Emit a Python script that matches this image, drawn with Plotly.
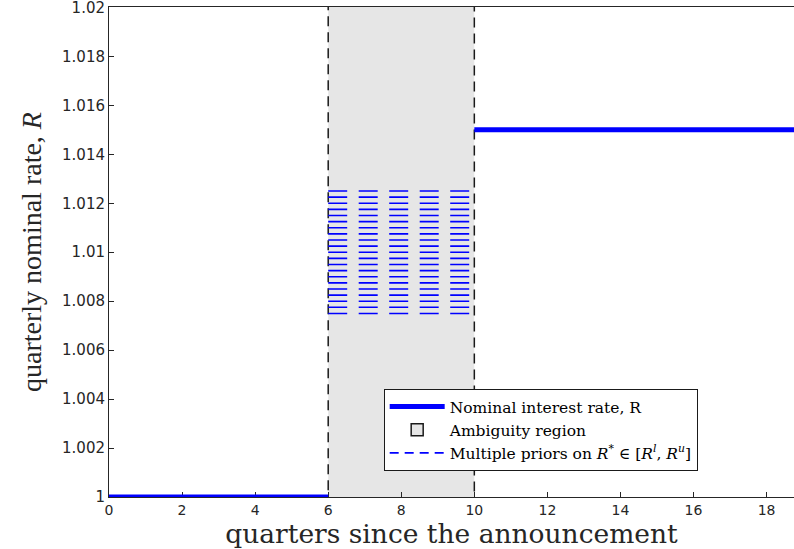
import numpy as np
import plotly.graph_objects as go

# Nominal interest rate path (quarters, gross quarterly rate)
rate_pre_x = [0, 6]
rate_pre_y = [1.0, 1.0]
rate_post_x = [10, 18.75]
rate_post_y = [1.015, 1.015]

# Ambiguity window
amb_start = 6
amb_end = 10

# Multiple priors: candidate levels for R*
prior_low = 1.0075
prior_high = 1.0125
prior_step = 0.00025
prior_levels = list(np.round(np.arange(prior_low, prior_high + prior_step / 2, prior_step), 6))

x_ticks = [0, 2, 4, 6, 8, 10, 12, 14, 16, 18]
y_ticks = [1.0, 1.002, 1.004, 1.006, 1.008, 1.01, 1.012, 1.014, 1.016, 1.018, 1.02]
y_ticktext = ["1", "1.002", "1.004", "1.006", "1.008", "1.01", "1.012", "1.014", "1.016", "1.018", "1.02"]

y_min, y_max = 1.0, 1.02
x_min, x_max = 0, 18.75

serif = "DejaVu Serif, serif"
serif_narrow = "Liberation Serif, serif"
sans = "DejaVu Sans, sans-serif"
axis_col = "#262626"

fig = go.Figure()

# Shaded ambiguity region with dashed outline (also carries its legend entry).
# It runs past the y-range so only its vertical edges remain after clipping.
pad = 0.001
fig.add_shape(type="rect", xref="x", yref="y",
              x0=amb_start, x1=amb_end, y0=y_min - pad, y1=y_max + pad,
              fillcolor="#e6e6e6",
              line=dict(color="#1a1a1a", width=1.5, dash="10px,6px"),
              layer="below",
              showlegend=True, name="Ambiguity region", legendrank=2)

# Multiple priors: dashed horizontal lines across the ambiguity window
px, py = [], []
for lv in prior_levels:
    px += [amb_start, amb_end, None]
    py += [lv, lv, None]
fig.add_trace(go.Scatter(
    x=px, y=py,
    mode="lines",
    line=dict(color="#0000ff", width=1.6, dash="19px,11.5px"),
    showlegend=False, hoverinfo="skip",
))
fig.add_trace(go.Scatter(
    x=[None], y=[None],
    mode="lines",
    line=dict(color="#0000ff", width=1.6, dash="9px,6px"),
    name="Multiple priors on <i>R</i><sup>*</sup> \u2208 [<i>R</i><sup><i>l</i></sup>, <i>R</i><sup><i>u</i></sup>]",
    legendrank=3,
))

# Nominal rate (two flat segments)
fig.add_trace(go.Scatter(
    x=rate_pre_x + [None] + rate_post_x,
    y=rate_pre_y + [None] + rate_post_y,
    mode="lines",
    line=dict(color="#0000ff", width=5),
    name="Nominal interest rate, R",
    connectgaps=False, legendrank=1,
))

fig.update_layout(
    width=794, height=549,
    margin=dict(l=109, r=0, t=7, b=52),
    paper_bgcolor="white",
    plot_bgcolor="white",
    showlegend=True,
    legend=dict(
        x=0.401, y=0.053, xanchor="left", yanchor="bottom",
        bgcolor="white", bordercolor="#1a1a1a", borderwidth=1,
        font=dict(family=serif, size=15.5, color="black"),
        tracegroupgap=0, itemwidth=55,
    ),
    xaxis=dict(
        range=[x_min, x_max],
        tickvals=x_ticks,
        ticks="inside", ticklen=5, tickcolor=axis_col,
        showline=True, linecolor=axis_col, linewidth=1, mirror=True,
        showgrid=False, zeroline=False, layer="below traces",
        tickfont=dict(family=sans, size=14, color=axis_col),
        title=dict(text="quarters since the announcement",
                   font=dict(family=serif, size=26.5, color=axis_col), standoff=6),
    ),
    yaxis=dict(
        range=[y_min, y_max + 2e-5],
        tickvals=y_ticks, ticktext=y_ticktext,
        ticklabeloverflow="allow",
        ticks="inside", ticklen=5, tickcolor=axis_col,
        showline=True, linecolor=axis_col, linewidth=1, mirror=True,
        showgrid=False, zeroline=False, layer="below traces",
        tickfont=dict(family=sans, size=15, color=axis_col),
        title=dict(text="quarterly nominal rate, <i>R</i>",
                   font=dict(family=serif_narrow, size=28, color=axis_col), standoff=12),
    ),
)

fig.write_html("out.html")
